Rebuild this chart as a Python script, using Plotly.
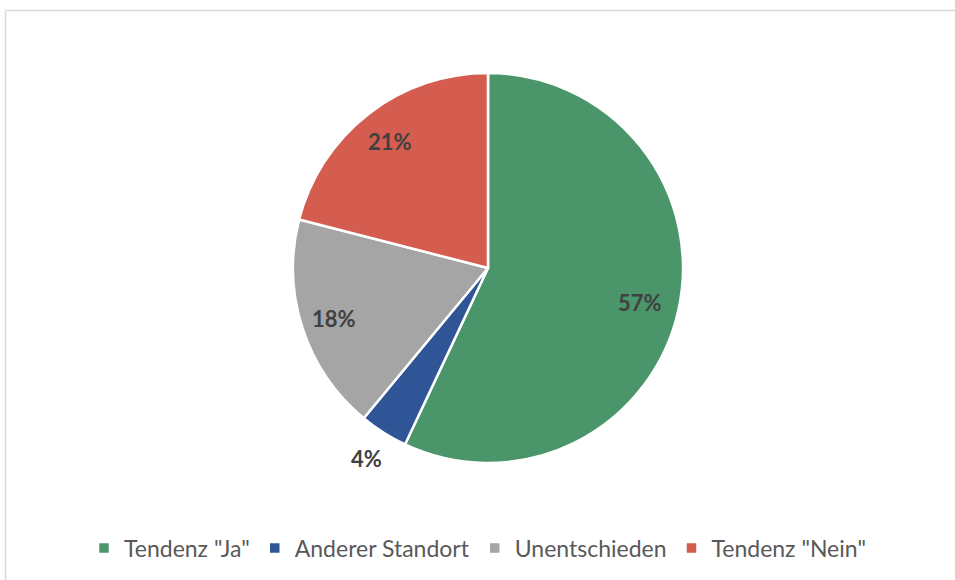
import math
import plotly.graph_objects as go

categories = ['Tendenz "Ja"', 'Anderer Standort', 'Unentschieden', 'Tendenz "Nein"']
values = [57, 4, 18, 21]
colors = ["#4A966A", "#2F5597", "#A5A5A5", "#D45D4F"]
label_radius = [0.80, 1.16, 0.83, 0.82]  # relative label distance from centre

W, H = 955, 580
cx, cy, r = 488, 268, 195

fig = go.Figure(go.Pie(
    labels=categories,
    values=values,
    sort=False,
    direction="clockwise",
    rotation=0,
    marker=dict(colors=colors, line=dict(color="white", width=2.5)),
    textinfo="none",
    domain=dict(x=[(cx - r) / W, (cx + r) / W], y=[1 - (cy + r) / H, 1 - (cy - r) / H]),
    hoverinfo="label+percent",
    showlegend=True,
))

# data labels at the slice mid-angles (derived from the values)
total = sum(values)
annotations = []
cum = 0.0
for v, k in zip(values, label_radius):
    mid = (cum + v / 2) / total * 2 * math.pi
    cum += v
    px = cx + k * r * math.sin(mid)
    py = cy - k * r * math.cos(mid)
    annotations.append(dict(
        x=px / W, y=1 - py / H, xref="paper", yref="paper",
        text=f"{round(v / total * 100)}%", showarrow=False,
        xanchor="center", yanchor="middle",
        font=dict(family="Lato", size=22, color="#404040", weight="bold"),
    ))

fig.update_layout(
    width=W, height=H,
    margin=dict(l=0, r=0, t=0, b=0),
    paper_bgcolor="white",
    plot_bgcolor="white",
    font=dict(family="Lato", color="#595959"),
    annotations=annotations,
    legend=dict(
        orientation="h",
        x=0.5, xanchor="center",
        y=1 - 548 / H, yanchor="middle",
        font=dict(family="Lato", size=23, color="#595959"),
        itemwidth=30,
        tracegroupgap=0,
    ),
    shapes=[
        dict(type="line", xref="paper", yref="paper", x0=5.5 / W, x1=1.0, y0=1 - 10.5 / H, y1=1 - 10.5 / H,
             line=dict(color="#D9D9D9", width=1.5)),
        dict(type="line", xref="paper", yref="paper", x0=5.5 / W, x1=5.5 / W, y0=0, y1=1 - 10.5 / H,
             line=dict(color="#D9D9D9", width=1.5)),
    ],
)

fig.write_html("out.html", config={"displayModeBar": False},
               post_script="document.body.style.margin='0';")
